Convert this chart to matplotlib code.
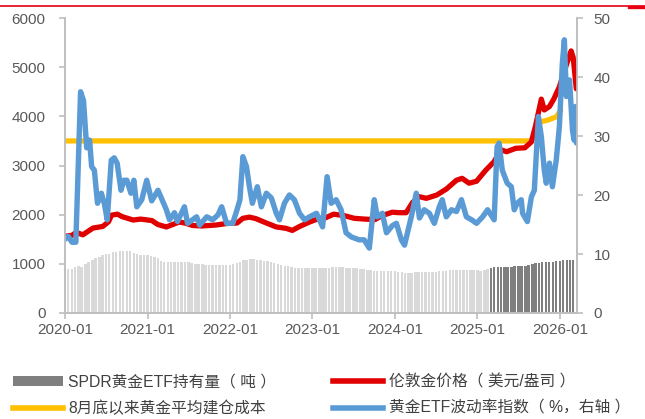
import matplotlib
matplotlib.use("Agg")
import matplotlib.pyplot as plt
import matplotlib.dates as mdates
import pandas as pd
from matplotlib.lines import Line2D
from matplotlib.patches import Rectangle

plt.rcParams["font.family"] = ["Liberation Sans", "Noto Sans CJK SC", "DejaVu Sans"]

# SPDR holdings (tonnes), semi-monthly
hold_dates = pd.date_range("2020-01-01", "2026-03-01", freq="SMS")
hold_vals = [
    885, 890, 900, 930, 950, 930, 1000, 1040, 1080, 1110, 1140, 1170, 1200, 1210, 1240, 1250, 1260, 1265, 1265, 1260, 1230, 1200, 1175, 1170,
    1170, 1160, 1140, 1110, 1060, 1040, 1030, 1030, 1035, 1040, 1040, 1035, 1030, 1010, 1000, 990, 990, 985, 980, 975, 975, 970, 975, 980,
    985, 995, 1010, 1040, 1070, 1085, 1090, 1095, 1085, 1070, 1065, 1060, 1040, 1010, 990, 980, 965, 950, 935, 925, 915, 910, 910, 910,
    915, 920, 925, 920, 920, 925, 935, 935, 935, 930, 925, 920, 915, 910, 895, 885, 875, 865, 855, 850, 850, 860, 860, 855,
    845, 835, 825, 815, 815, 820, 830, 830, 830, 835, 835, 835, 840, 845, 855, 860, 865, 870, 875, 880, 880, 875, 870, 865,
    865, 860, 880, 905, 925, 940, 945, 945, 940, 935, 945, 950, 950, 955, 960, 970, 995, 1010, 1020, 1035, 1040, 1040, 1045, 1055,
    1065, 1075, 1080, 1085, 1085,
]
dark_from = pd.Timestamp("2025-02-20")

# London gold price (USD/oz)
gold_dates = pd.to_datetime([
    "2020-01-01", "2020-02-01", "2020-02-20", "2020-03-20", "2020-05-04", "2020-06-16", "2020-07-12", "2020-07-25",
    "2020-08-20", "2020-09-10", "2020-10-29", "2020-12-01", "2021-01-20", "2021-02-15", "2021-03-25", "2021-05-20",
    "2021-06-15", "2021-07-19", "2021-08-30", "2021-11-01", "2021-12-17", "2022-02-01", "2022-02-27", "2022-03-28",
    "2022-04-25", "2022-06-11", "2022-07-25", "2022-09-06", "2022-10-04", "2022-11-05", "2022-12-19", "2023-02-01",
    "2023-02-25", "2023-04-05", "2023-05-22", "2023-07-05", "2023-08-20", "2023-10-05", "2023-11-05", "2023-12-21",
    "2024-01-20", "2024-02-20", "2024-03-20", "2024-04-19", "2024-05-20", "2024-07-05", "2024-08-16", "2024-09-30",
    "2024-10-25", "2024-11-25", "2024-12-28", "2025-02-06", "2025-03-16", "2025-04-15", "2025-05-10", "2025-06-20",
    "2025-07-30", "2025-08-28", "2025-09-15", "2025-10-11", "2025-10-24", "2025-11-16", "2025-12-05", "2025-12-30",
    "2026-01-30", "2026-02-20", "2026-03-01", "2026-03-15",
])
gold_vals = [
    1560, 1580, 1640, 1590, 1728, 1760, 1857, 1990,
    2010, 1960, 1891, 1910, 1880, 1800, 1750, 1850,
    1830, 1780, 1770, 1790, 1820, 1830, 1926, 1950,
    1920, 1830, 1750, 1722, 1680, 1760, 1850, 1926,
    1930, 2010, 1980, 1926, 1910, 1900, 1980, 2050,
    2040, 2040, 2250, 2366, 2332, 2400, 2520, 2700,
    2739, 2640, 2680, 2900, 3080, 3320, 3280, 3350,
    3360, 3480, 3800, 4350, 4130, 4200, 4350, 4600,
    5050, 5330, 5200, 4560,
]

# average position cost since end of August
cost_dates = pd.to_datetime(["2020-01-01", "2025-08-28", "2025-09-15", "2025-10-08", "2025-11-10", "2025-12-16", "2026-01-05"])
cost_vals = [3500, 3500, 3720, 3890, 3925, 3990, 4120]

# gold ETF volatility index (%, right axis)
vol_dates = pd.to_datetime([
    "2020-01-01", "2020-01-15", "2020-02-01", "2020-02-18", "2020-03-10", "2020-03-23", "2020-04-06", "2020-04-19",
    "2020-04-28", "2020-05-10", "2020-05-24", "2020-06-10", "2020-06-23", "2020-07-06", "2020-07-24", "2020-08-06",
    "2020-08-19", "2020-09-05", "2020-09-18", "2020-10-01", "2020-10-19", "2020-11-01", "2020-11-14", "2020-12-06",
    "2020-12-28", "2021-01-19", "2021-02-16", "2021-03-25", "2021-04-08", "2021-04-30", "2021-05-13", "2021-06-13",
    "2021-06-27", "2021-07-19", "2021-08-06", "2021-08-19", "2021-09-20", "2021-10-16", "2021-11-08", "2021-11-25",
    "2021-12-17", "2022-01-13", "2022-02-01", "2022-02-14", "2022-02-27", "2022-03-15", "2022-03-28", "2022-04-10",
    "2022-05-02", "2022-05-20", "2022-06-11", "2022-07-03", "2022-07-25", "2022-08-08", "2022-08-30", "2022-09-21",
    "2022-10-13", "2022-11-05", "2022-11-27", "2022-12-19", "2023-01-19", "2023-02-15", "2023-03-07", "2023-03-25",
    "2023-04-16", "2023-05-08", "2023-05-30", "2023-06-22", "2023-07-27", "2023-08-18", "2023-09-10", "2023-10-02",
    "2023-10-15", "2023-11-07", "2023-11-25", "2023-12-21", "2024-01-08", "2024-01-30", "2024-02-13", "2024-02-26",
    "2024-03-14", "2024-04-05", "2024-04-19", "2024-05-10", "2024-06-02", "2024-06-24", "2024-07-16", "2024-07-29",
    "2024-08-16", "2024-09-08", "2024-09-30", "2024-10-22", "2024-11-13", "2024-12-06", "2024-12-28", "2025-01-24",
    "2025-02-15", "2025-03-16", "2025-03-29", "2025-04-07", "2025-04-21", "2025-05-13", "2025-05-31", "2025-06-13",
    "2025-06-26", "2025-07-14", "2025-07-20", "2025-08-10", "2025-08-28", "2025-09-10", "2025-09-28", "2025-10-11",
    "2025-10-24", "2025-11-02", "2025-11-16", "2025-11-29", "2025-12-16", "2025-12-30", "2026-01-12", "2026-01-21",
    "2026-01-30", "2026-02-13", "2026-02-26", "2026-03-05", "2026-03-12", "2026-03-16",
])
vol_vals = [
    12.5, 13.0, 12.0, 12.0, 37.5, 36.0, 28.0, 29.3,
    24.8, 24.2, 18.6, 20.3, 18.6, 15.8, 25.9, 26.3,
    25.4, 20.8, 22.5, 22.5, 20.3, 22.5, 18.0, 19.2,
    22.5, 19.0, 20.8, 17.5, 15.8, 17.0, 15.5, 18.0,
    15.2, 15.8, 16.3, 14.9, 16.3, 15.8, 16.6, 18.0,
    15.2, 15.2, 17.5, 19.2, 26.5, 24.8, 21.4, 18.6,
    21.4, 18.0, 20.3, 19.5, 16.9, 15.8, 18.6, 20.0,
    19.2, 16.9, 15.8, 16.3, 16.9, 14.6, 23.1, 18.6,
    19.2, 17.5, 13.6, 12.9, 12.4, 12.4, 11.0, 19.2,
    16.3, 16.9, 13.6, 14.8, 15.2, 12.4, 11.5, 13.6,
    16.3, 20.3, 16.1, 17.5, 16.9, 15.2, 18.0, 19.2,
    16.3, 17.5, 17.2, 19.2, 16.3, 15.8, 15.2, 16.3,
    17.5, 15.8, 28.2, 28.8, 24.2, 22.0, 21.4, 17.5,
    18.6, 19.2, 16.9, 15.5, 19.7, 20.8, 33.3, 29.9,
    24.2, 22.0, 25.4, 21.4, 25.9, 31.6, 42.3, 46.3,
    36.7, 39.5, 31.0, 29.3, 35.0, 28.8,
]

LIGHT = "#d9d9d9"; DARK = "#7f7f7f"; RED = "#e00000"; GOLD = "#ffc000"; BLUE = "#5b9bd5"
AXC = "#bfbfbf"; TXT = "#595959"

fig = plt.figure(figsize=(6.45, 4.19), dpi=100)
ax = fig.add_axes([65 / 645, 1 - 313 / 419, (577 - 65) / 645, (313 - 18) / 419])
ax2 = ax.twinx()

bar_cols = [DARK if d >= dark_from else LIGHT for d in hold_dates]
ax.bar(hold_dates, hold_vals, width=11, color=bar_cols, linewidth=0, zorder=1)
ax.plot(cost_dates, cost_vals, color=GOLD, lw=3.8, solid_capstyle="round", zorder=2)
ax.plot(gold_dates, gold_vals, color=RED, lw=3.8, solid_joinstyle="round", solid_capstyle="round", zorder=3)
ax2.plot(vol_dates, vol_vals, color=BLUE, lw=3.9, solid_joinstyle="round", solid_capstyle="round")

ax.set_xlim(pd.Timestamp("2020-01-01"), pd.Timestamp("2026-03-18"))
ax.set_ylim(0, 6000)
ax2.set_ylim(0, 50)
ax.set_yticks(range(0, 6001, 1000))
ax2.set_yticks(range(0, 51, 10))
ax.xaxis.set_major_locator(mdates.YearLocator())
ax.xaxis.set_major_formatter(mdates.DateFormatter("%Y-%m"))

for a in (ax, ax2):
    a.spines["top"].set_visible(False)
    for s in ("left", "right", "bottom"):
        a.spines[s].set_color(AXC)
        a.spines[s].set_linewidth(1.2)
    a.tick_params(colors=AXC, labelcolor=TXT, labelsize=11, length=4, width=1.2)
ax.tick_params(axis="y", pad=10)
ax2.tick_params(axis="y", pad=8)
ax.tick_params(axis="x", pad=3)

handles = [
    Rectangle((0, 0), 1, 1, fc=DARK, ec="none"),
    Line2D([], [], color=GOLD, lw=4),
    Line2D([], [], color=RED, lw=4),
    Line2D([], [], color=BLUE, lw=4),
]
labels = ["SPDR黄金ETF持有量（ 吨 ）", "8月底以来黄金平均建仓成本", "伦敦金价格（ 美元/盎司 ）", "黄金ETF波动率指数（ %，右轴 ）"]
fig.legend(handles, labels, ncol=2, loc="upper left", bbox_to_anchor=(0, 1 - 362 / 419),
           frameon=False, fontsize=11.3, labelcolor="#404040", handlelength=3.2, handleheight=0.6,
           handletextpad=0.35, columnspacing=3.6, labelspacing=0.72, borderpad=0.3)

fig.add_artist(Line2D([0, 1], [1 - 6 / 419, 1 - 6 / 419], color="#e60012", lw=1.2))
fig.add_artist(Line2D([0.975, 1], [1 - 7.5 / 419, 1 - 7.5 / 419], color="#e60012", lw=2.4))

fig.savefig("out.png", dpi=100, facecolor="white")
